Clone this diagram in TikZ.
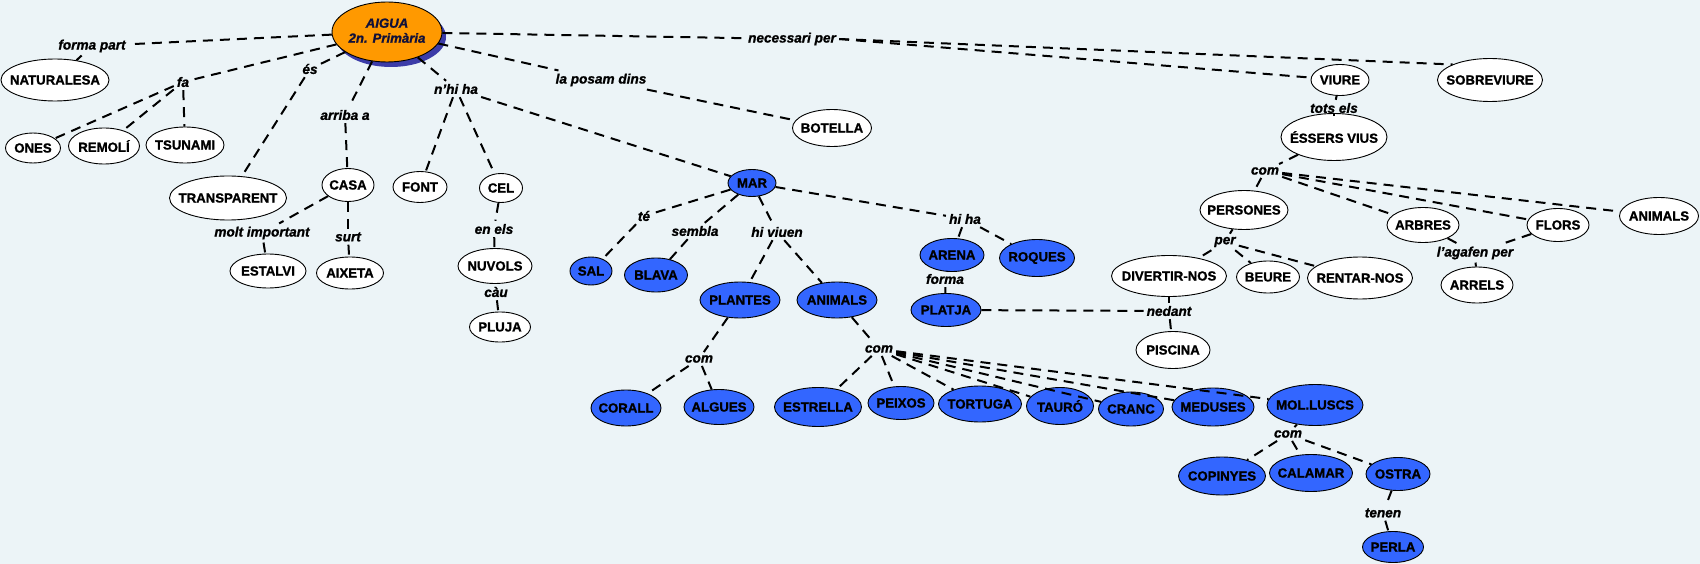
\documentclass[tikz,border=0pt]{standalone}
\usepackage{fontspec}
\setmainfont{Liberation Sans}[BoldFeatures={FakeBold=1.2},BoldItalicFeatures={FakeBold=1.2}]
\usetikzlibrary{shapes.geometric}
\definecolor{bg}{HTML}{ECF4F7}
\definecolor{mblue}{HTML}{3366FF}
\definecolor{morange}{HTML}{FF9900}
\definecolor{mshadow}{HTML}{3C3CA8}
\definecolor{navy}{HTML}{10103A}
\newcommand\nt[1]{\makebox[0pt]{#1}}
\tikzset{
  cn/.style={ellipse, draw=black, line width=0.9pt, fill=white, inner sep=0pt, font=\fontsize{13.2}{15}\selectfont\bfseries},
  bn/.style={cn, fill=mblue},
  lab/.style={inner sep=3pt, font=\fontsize{13.6}{15}\selectfont\bfseries\itshape},
  lnk/.style={draw=black, line width=2pt, dash pattern=on 10pt off 7pt},
}
\begin{document}
\begin{tikzpicture}[x=1pt,y=-1pt]
\fill[bg] (0,0) rectangle (1700,564);
\useasboundingbox (0,0) rectangle (1700,564);
% central node
\fill[mshadow] (391,37) ellipse [x radius=55, y radius=30];
\node[cn, fill=morange, minimum width=110, minimum height=60, text=navy, font=\fontsize{13.2}{16}\selectfont\bfseries\itshape] (aigua) at (387,32) {\nt{\begin{tabular}{@{}c@{}}AIGUA\\[-1pt]2n. Primària\end{tabular}}};
% white nodes
\node[cn, minimum width=108, minimum height=42] (naturalesa) at (55,80) {\nt{NATURALESA}};
\node[cn, minimum width=55, minimum height=30] (ones) at (33,148) {\nt{ONES}};
\node[cn, minimum width=71, minimum height=36] (remoli) at (104,146) {\nt{REMOLÍ}};
\node[cn, minimum width=78, minimum height=36] (tsunami) at (185,145) {\nt{TSUNAMI}};
\node[cn, minimum width=117, minimum height=44] (transparent) at (228,198) {\nt{TRANSPARENT}};
\node[cn, minimum width=52, minimum height=33] (casa) at (348,185) {\nt{CASA}};
\node[cn, minimum width=54, minimum height=31] (font) at (420,187) {\nt{FONT}};
\node[cn, minimum width=43, minimum height=29] (cel) at (501,188) {\nt{CEL}};
\node[cn, minimum width=76, minimum height=34] (estalvi) at (268,271) {\nt{ESTALVI}};
\node[cn, minimum width=67, minimum height=32] (aixeta) at (350,273) {\nt{AIXETA}};
\node[cn, minimum width=74, minimum height=35] (nuvols) at (495,266) {\nt{NUVOLS}};
\node[cn, minimum width=61, minimum height=30] (pluja) at (500,327) {\nt{PLUJA}};
\node[cn, minimum width=79, minimum height=37] (botella) at (832,128) {\nt{BOTELLA}};
\node[cn, minimum width=58, minimum height=31] (viure) at (1340,80) {\nt{VIURE}};
\node[cn, minimum width=105, minimum height=43] (sobreviure) at (1490,80) {\nt{SOBREVIURE}};
\node[cn, minimum width=106, minimum height=47] (essers) at (1334,137) {\nt{ÉSSERS VIUS}};
\node[cn, minimum width=88, minimum height=39] (persones) at (1244,210) {\nt{PERSONES}};
\node[cn, minimum width=115, minimum height=41] (divertir) at (1169,276) {\nt{DIVERTIR-NOS}};
\node[cn, minimum width=63, minimum height=32] (beure) at (1268,277) {\nt{BEURE}};
\node[cn, minimum width=105, minimum height=42] (rentar) at (1360,278) {\nt{RENTAR-NOS}};
\node[cn, minimum width=72, minimum height=35] (arbres) at (1423,225) {\nt{ARBRES}};
\node[cn, minimum width=62, minimum height=33] (flors) at (1558,225) {\nt{FLORS}};
\node[cn, minimum width=79, minimum height=37] (animalsb) at (1659,216) {\nt{ANIMALS}};
\node[cn, minimum width=72, minimum height=36] (arrels) at (1477,285) {\nt{ARRELS}};
\node[cn, minimum width=74, minimum height=37] (piscina) at (1173,350) {\nt{PISCINA}};
% blue nodes
\node[bn, minimum width=48, minimum height=27] (mar) at (752,183) {\nt{MAR}};
\node[bn, minimum width=42, minimum height=28] (sal) at (591,271) {\nt{SAL}};
\node[bn, minimum width=63, minimum height=34] (blava) at (656,275) {\nt{BLAVA}};
\node[bn, minimum width=80, minimum height=36] (plantes) at (740,300) {\nt{PLANTES}};
\node[bn, minimum width=80, minimum height=36] (animals) at (837,300) {\nt{ANIMALS}};
\node[bn, minimum width=64, minimum height=33] (arena) at (952,255) {\nt{ARENA}};
\node[bn, minimum width=75, minimum height=37] (roques) at (1037,258) {\nt{ROQUES}};
\node[bn, minimum width=70, minimum height=33] (platja) at (946,310) {\nt{PLATJA}};
\node[bn, minimum width=70, minimum height=36] (corall) at (626,408) {\nt{CORALL}};
\node[bn, minimum width=70, minimum height=35] (algues) at (719,407) {\nt{ALGUES}};
\node[bn, minimum width=87, minimum height=39] (estrella) at (818,407) {\nt{ESTRELLA}};
\node[bn, minimum width=66, minimum height=33] (peixos) at (901,403) {\nt{PEIXOS}};
\node[bn, minimum width=83, minimum height=36] (tortuga) at (980,404) {\nt{TORTUGA}};
\node[bn, minimum width=67, minimum height=37] (tauro) at (1060,406) {\nt{TAURÓ}};
\node[bn, minimum width=65, minimum height=34] (cranc) at (1131,409) {\nt{CRANC}};
\node[bn, minimum width=82, minimum height=38] (meduses) at (1213,407) {\nt{MEDUSES}};
\node[bn, minimum width=96, minimum height=41] (molluscs) at (1315,405) {\nt{MOL.LUSCS}};
\node[bn, minimum width=87, minimum height=38] (copinyes) at (1222,476) {\nt{COPINYES}};
\node[bn, minimum width=83, minimum height=37] (calamar) at (1311,473) {\nt{CALAMAR}};
\node[bn, minimum width=64, minimum height=33] (ostra) at (1398,474) {\nt{OSTRA}};
\node[bn, minimum width=61, minimum height=31] (perla) at (1393,547) {\nt{PERLA}};
% linking phrases
\node[lab] (lforma) at (92,46) {forma part};
\node[lab] (lfa) at (183,82) {fa};
\node[lab] (les) at (310,69) {és};
\node[lab] (larriba) at (345,115) {arriba a};
\node[lab] (lnhiha) at (456,89) {n'hi ha};
\node[lab] (lposam) at (601,80) {la posam dins};
\node[lab] (lnec) at (792,39) {necessari per};
\node[lab] (lmolt) at (262,233) {molt important};
\node[lab] (lsurt) at (348,237) {surt};
\node[lab] (lenels) at (494,229) {en els};
\node[lab] (lcau) at (496,292) {càu};
\node[lab] (lte) at (644,216) {té};
\node[lab] (lsembla) at (695,231) {sembla};
\node[lab] (lhiviuen) at (777,232) {hi viuen};
\node[lab] (lhiha) at (965,219) {hi ha};
\node[lab] (lformab) at (945,279) {forma};
\node[lab] (lcomp) at (699,359) {com};
\node[lab] (lcoma) at (879,349) {com};
\node[lab] (lcomm) at (1288,434) {com};
\node[lab] (ltenen) at (1383,513) {tenen};
\node[lab] (ltots) at (1334,108) {tots els};
\node[lab] (lcome) at (1265,171) {com};
\node[lab] (lper) at (1225,242) {per};
\node[lab] (lagafen) at (1475,253) {l'agafen per};
\node[lab] (lnedant) at (1169,311) {nedant};
% connectors
\begin{scope}[lnk]
\draw (aigua) -- (lforma); \draw (lforma) -- (naturalesa);
\draw (aigua) -- (lfa); \draw (lfa) -- (ones); \draw (lfa) -- (remoli); \draw (lfa) -- (tsunami);
\draw (aigua) -- (les); \draw (les) -- (transparent);
\draw (aigua) -- (larriba); \draw (larriba) -- (casa);
\draw (aigua) -- (lnhiha); \draw (lnhiha) -- (font); \draw (lnhiha) -- (cel); \draw (lnhiha) -- (mar);
\draw (aigua) -- (lposam); \draw (lposam) -- (botella);
\draw (aigua) -- (lnec); \draw (lnec.east) -- (viure); \draw (lnec.east) -- (sobreviure.north west);
\draw (casa) -- (lmolt); \draw (lmolt) -- (estalvi);
\draw (casa) -- (lsurt); \draw (lsurt) -- (aixeta);
\draw (cel) -- (lenels); \draw (lenels) -- (nuvols);
\draw (nuvols) -- (lcau); \draw (lcau) -- (pluja);
\draw (mar) -- (lte); \draw (lte) -- (sal);
\draw (mar) -- (lsembla); \draw (lsembla) -- (blava);
\draw (mar) -- (lhiviuen); \draw (lhiviuen) -- (plantes); \draw (lhiviuen) -- (animals);
\draw (mar) -- (lhiha); \draw (lhiha) -- (arena); \draw (lhiha) -- (roques);
\draw (arena) -- (lformab); \draw (lformab) -- (platja);
\draw (plantes) -- (lcomp); \draw (lcomp) -- (corall); \draw (lcomp) -- (algues);
\draw (animals) -- (lcoma);
\draw (lcoma) -- (estrella); \draw (lcoma) -- (peixos); \draw (lcoma) -- (tortuga); \draw (lcoma) -- (tauro);
\draw (lcoma) -- (cranc); \draw (lcoma) -- (meduses); \draw (lcoma) -- (molluscs);
\draw (molluscs) -- (lcomm); \draw (lcomm) -- (copinyes); \draw (lcomm) -- (calamar); \draw (lcomm) -- (ostra);
\draw (ostra) -- (ltenen); \draw (ltenen) -- (perla);
\draw (viure) -- (ltots); \draw (ltots) -- (essers);
\draw (essers) -- (lcome); \draw (lcome) -- (persones); \draw (lcome) -- (arbres); \draw (lcome) -- (flors); \draw (lcome) -- (animalsb);
\draw (persones) -- (lper); \draw (lper) -- (divertir); \draw (lper) -- (beure); \draw (lper) -- (rentar);
\draw (arbres) -- (lagafen); \draw (flors) -- (lagafen); \draw (lagafen) -- (arrels);
\draw (platja) -- (lnedant); \draw (divertir) -- (lnedant); \draw (lnedant) -- (piscina);
\end{scope}
\end{tikzpicture}
\end{document}
